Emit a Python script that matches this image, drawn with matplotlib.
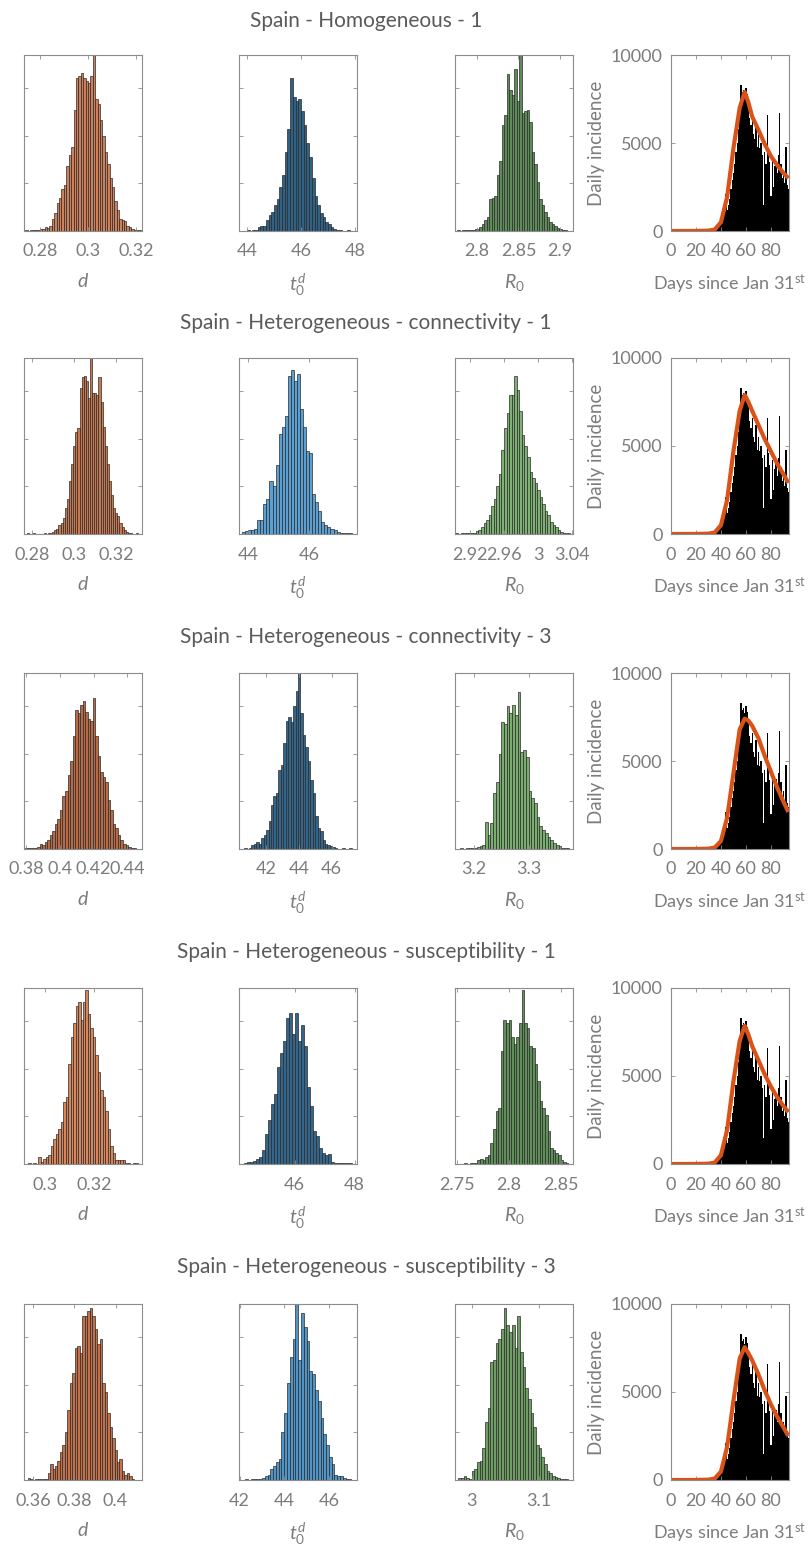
import numpy as np
import matplotlib
matplotlib.use('Agg')
import matplotlib.pyplot as plt
from matplotlib.ticker import FormatStrFormatter

plt.rcParams['font.family'] = ['Lato', 'DejaVu Sans']
plt.rcParams['mathtext.fontset'] = 'custom'
plt.rcParams['mathtext.rm'] = 'Lato'
plt.rcParams['mathtext.it'] = 'Lato:italic'

titles = ['Spain - Homogeneous - 1',
          'Spain - Heterogeneous - connectivity - 1',
          'Spain - Heterogeneous - connectivity - 3',
          'Spain - Heterogeneous - susceptibility - 1',
          'Spain - Heterogeneous - susceptibility - 3']

# ---- posterior of d (bin start, bin width, relative counts)
d_start = [0.274, 0.2765, 0.379, 0.2925, 0.3575]
d_width = [0.001, 0.001, 0.0015, 0.001, 0.0012]
d_counts = [
    [0.003, 0, 0.004, 0.003, 0.006, 0.005, 0.012, 0.01, 0.02, 0.015,
     0.03, 0.07, 0.1, 0.16, 0.19, 0.24, 0.26, 0.37, 0.43, 0.48,
     0.69, 0.87, 0.88, 0.9, 0.87, 0.85, 0.84, 0.88, 1.0, 0.75,
     0.72, 0.63, 0.54, 0.45, 0.38, 0.3, 0.25, 0.17, 0.12, 0.07,
     0.06, 0.055, 0.03, 0.02, 0.01, 0.005, 0.003, 0.004],
    [0.002, 0.003, 0.002, 0.002, 0.003, 0.002, 0.002, 0.001, 0.002, 0.003,
     0.002, 0.004, 0.008, 0.012, 0.02, 0.03, 0.05, 0.06, 0.09, 0.15,
     0.2, 0.3, 0.4, 0.5, 0.58, 0.6, 0.83, 0.89, 0.9, 0.87,
     0.77, 1.0, 0.8, 0.8, 0.79, 0.89, 0.75, 0.61, 0.5, 0.4,
     0.3, 0.22, 0.15, 0.12, 0.1, 0.06, 0.04, 0.02, 0.01, 0.005,
     0.003, 0.002, 0.001, 0.004, 0.002],
    [0.003, 0.005, 0.003, 0.004, 0.006, 0.01, 0.03, 0.02, 0.04, 0.05,
     0.08, 0.1, 0.14, 0.17, 0.22, 0.3, 0.33, 0.42, 0.5, 0.64,
     0.79, 0.77, 0.82, 0.84, 0.78, 0.74, 0.73, 0.86, 0.64, 0.53,
     0.44, 0.41, 0.38, 0.28, 0.22, 0.14, 0.12, 0.08, 0.05, 0.03,
     0.02, 0.01, 0.005, 0.003, 0.002],
    [0.0, 0.003, 0.002, 0.003, 0.0, 0.04, 0.01, 0.03, 0.04, 0.05,
     0.1, 0.14, 0.17, 0.2, 0.24, 0.35, 0.38, 0.57, 0.72, 0.8,
     0.9, 0.92, 0.82, 0.92, 0.99, 0.85, 0.77, 0.72, 0.62, 0.52,
     0.42, 0.38, 0.3, 0.2, 0.1, 0.06, 0.025, 0.02, 0.025, 0.02,
     0.008, 0.003, 0.002, 0.003, 0.004, 0.002],
    [0.01, 0.003, 0.002, 0.004, 0.003, 0.005, 0.004, 0.006, 0.04, 0.09,
     0.06, 0.08, 0.11, 0.16, 0.2, 0.27, 0.4, 0.55, 0.61, 0.75,
     0.76, 0.72, 0.93, 0.93, 0.96, 0.98, 0.93, 0.86, 0.77, 0.8,
     0.55, 0.5, 0.38, 0.3, 0.24, 0.17, 0.1, 0.12, 0.05, 0.03,
     0.04, 0.02, 0.005, 0.002, 0.0],
]
d_xlim = [(0.2734, 0.3225), (0.2761, 0.3322), (0.3786, 0.4488),
          (0.2917, 0.3393), (0.3557, 0.4128)]
d_ticks = [[0.28, 0.3, 0.32], [0.28, 0.3, 0.32], [0.38, 0.4, 0.42, 0.44],
           [0.3, 0.32], [0.36, 0.38, 0.4]]

# ---- posterior of t0^d
t0_start = [44.0, 43.8, 40.5, 44.2, 42.0]
t0_width = [0.1, 0.1, 0.15, 0.1, 0.125]
t0_counts = [
    [0.003, 0.002, 0.004, 0.005, 0.025, 0.03, 0.03, 0.06, 0.09, 0.11,
     0.15, 0.18, 0.25, 0.32, 0.45, 0.58, 0.87, 0.76, 0.74, 0.75,
     0.68, 0.6, 0.5, 0.42, 0.3, 0.2, 0.15, 0.1, 0.08, 0.05,
     0.04, 0.025, 0.01, 0.005, 0.003, 0.002, 0.002, 0.003, 0.002, 0.0],
    [0.01, 0.015, 0.02, 0.025, 0.03, 0.08, 0.08, 0.17, 0.2, 0.3,
     0.27, 0.39, 0.57, 0.61, 0.67, 0.9, 0.93, 0.87, 0.91, 0.71,
     0.61, 0.47, 0.46, 0.23, 0.18, 0.13, 0.07, 0.05, 0.04, 0.03,
     0.02, 0.01, 0.008, 0.005, 0.004, 0.008],
    [0.0, 0.004, 0.002, 0.003, 0.02, 0.03, 0.04, 0.03, 0.06, 0.08,
     0.11, 0.16, 0.25, 0.3, 0.32, 0.45, 0.48, 0.6, 0.73, 0.75,
     0.72, 0.81, 0.9, 1.0, 0.77, 0.65, 0.58, 0.5, 0.39, 0.32,
     0.19, 0.12, 0.1, 0.05, 0.03, 0.02, 0.015, 0.01, 0.004, 0.002,
     0.002, 0.003, 0.002, 0.002, 0.003, 0.002],
    [0.002, 0.003, 0.01, 0.012, 0.015, 0.03, 0.04, 0.08, 0.17, 0.25,
     0.34, 0.4, 0.55, 0.63, 0.7, 0.83, 0.86, 0.74, 0.86, 0.7,
     0.79, 0.67, 0.44, 0.33, 0.19, 0.16, 0.09, 0.06, 0.05, 0.056,
     0.013, 0.005, 0.004, 0.003, 0.005, 0.004, 0.003, 0.002],
    [0.002, 0.002, 0.003, 0.002, 0.004, 0.005, 0.008, 0.006, 0.01, 0.02,
     0.03, 0.06, 0.08, 0.1, 0.12, 0.27, 0.38, 0.55, 0.7, 0.8,
     1.0, 0.68, 0.95, 0.87, 0.79, 0.62, 0.6, 0.51, 0.45, 0.35,
     0.26, 0.2, 0.13, 0.09, 0.03, 0.025, 0.02, 0.012, 0.008, 0.004],
]
t0_xlim = [(43.71, 48.07), (43.7, 47.57), (40.34, 47.56), (44.14, 48.08), (41.97, 47.26)]
t0_ticks = [[44, 46, 48], [44, 46], [42, 44, 46], [46, 48], [42, 44, 46]]

# ---- posterior of R0
r0_start = [2.776, 2.903, 3.17, 2.755, 2.98]
r0_width = [0.003, 0.003, 0.005, 0.0025, 0.004]
r0_counts = [
    [0.003, 0.002, 0.004, 0.003, 0.005, 0.006, 0.008, 0.01, 0.012, 0.025,
     0.04, 0.06, 0.08, 0.18, 0.19, 0.2, 0.32, 0.4, 0.6, 0.66,
     0.89, 0.8, 0.77, 0.92, 0.74, 1.0, 0.67, 0.68, 0.69, 0.62,
     0.45, 0.38, 0.28, 0.18, 0.15, 0.11, 0.08, 0.05, 0.04, 0.03,
     0.015, 0.01, 0.005, 0.003, 0.002],
    [0.003, 0.002, 0.003, 0.005, 0.003, 0.004, 0.005, 0.008, 0.015, 0.02,
     0.04, 0.06, 0.08, 0.11, 0.16, 0.2, 0.27, 0.34, 0.48, 0.6,
     0.69, 0.79, 0.79, 0.9, 0.82, 0.7, 0.56, 0.5, 0.44, 0.35,
     0.32, 0.29, 0.25, 0.21, 0.17, 0.13, 0.11, 0.07, 0.05, 0.04,
     0.02, 0.012, 0.008, 0.005, 0.003, 0.002],
    [0.002, 0.003, 0.002, 0.003, 0.004, 0.005, 0.008, 0.01, 0.015, 0.025,
     0.154, 0.078, 0.15, 0.32, 0.38, 0.54, 0.72, 0.71, 0.81, 0.77,
     0.82, 0.76, 0.89, 0.55, 0.56, 0.52, 0.33, 0.29, 0.26, 0.18,
     0.13, 0.11, 0.09, 0.07, 0.05, 0.036, 0.02, 0.015, 0.008, 0.008,
     0.004, 0.002],
    [0.002, 0.003, 0.002, 0.003, 0.004, 0.005, 0.02, 0.03, 0.025, 0.04,
     0.05, 0.12, 0.2, 0.3, 0.32, 0.64, 0.82, 0.8, 0.82, 0.72,
     0.68, 0.72, 0.8, 0.99, 0.8, 0.77, 0.67, 0.66, 0.57, 0.47,
     0.36, 0.32, 0.28, 0.19, 0.09, 0.08, 0.06, 0.05, 0.02, 0.013,
     0.004, 0.002],
    [0.01, 0.01, 0.02, 0.01, 0.005, 0.05, 0.06, 0.1, 0.11, 0.18,
     0.33, 0.41, 0.67, 0.68, 0.78, 0.8, 0.86, 0.98, 0.88, 0.84,
     0.88, 0.75, 0.93, 0.73, 0.64, 0.52, 0.46, 0.38, 0.3, 0.2,
     0.18, 0.13, 0.09, 0.05, 0.04, 0.025, 0.015, 0.01, 0.008, 0.005,
     0.003, 0.002],
]
r0_xlim = [(2.7735, 2.9157), (2.9025, 3.041), (3.165, 3.3816), (2.7485, 2.862), (2.975, 3.1515)]
r0_ticks = [[2.8, 2.85, 2.9], [2.92, 2.96, 3, 3.04], [3.2, 3.3], [2.75, 2.8, 2.85], [3, 3.1]]

# ---- Spain daily incidence, days since Jan 31st
days = np.arange(95)
incidence = [0] * 25 + [1, 2, 5, 10, 20,
             30, 40, 50, 60, 90, 120, 180, 250, 350, 450,
             500, 600, 800, 1000, 2100, 1200, 1500, 1800, 2400, 2900,
             3300, 3800, 4500, 5000, 5800, 6600, 8300, 7900, 8000, 7700,
             8100, 7800, 7200, 6400, 6000, 6600, 5500, 5200, 6200, 4800,
             5500, 4700, 5000, 4300, 1500, 4500, 3800, 6600, 4600, 3900,
             2000, 4200, 2500, 3700, 4000, 3300, 4300, 6700, 3800, 3000,
             3300, 2700, 4800, 2600, 2400]

# model fits (sampled)
fit_days = [0, 10, 20, 30, 35, 40, 45, 50, 55, 59, 62, 65, 70, 75, 80, 85, 90, 94]
fits = [
    [0, 0, 3, 20, 80, 500, 1950, 4700, 7000, 7900, 7300, 6500, 5750, 4950, 4250, 3750, 3300, 3000],
    [0, 0, 3, 20, 80, 500, 1950, 4700, 7000, 7900, 7500, 7000, 6200, 5400, 4700, 4000, 3400, 2900],
    [0, 0, 3, 20, 80, 450, 1800, 4300, 6800, 7400, 7300, 7000, 6300, 5300, 4400, 3500, 2700, 2100],
    [0, 0, 3, 20, 80, 500, 1950, 4700, 7000, 7850, 7350, 6700, 5900, 5100, 4400, 3800, 3300, 2950],
    [0, 0, 3, 20, 80, 480, 1900, 4500, 6900, 7550, 7200, 6800, 6000, 5100, 4300, 3600, 3000, 2500],
]

# colours per row
orange = ['#CF8058', '#C8784F', '#B86A45', '#D8865C', '#C4714A']
blue = ['#2F6184', '#5AA0D2', '#33668A', '#33668A', '#4F95C8']
green = ['#5E8C58', '#7DB272', '#79AE6E', '#5F8E58', '#6E9E63']

grey = '#7c7c7c'
W, H = 812, 1549
col_x = [24, 239, 455, 671]
col_w = 118
row_top = [55, 358, 673, 988, 1304]
row_h = 176
title_y = [21, 323, 637, 952, 1267]

fig = plt.figure(figsize=(W / 100, H / 100), dpi=100)


def style(ax):
    for s in ax.spines.values():
        s.set_color('#8c8c8c')
        s.set_linewidth(0.8)
    ax.tick_params(direction='in', length=3, width=0.6, color='#8c8c8c',
                   top=True, right=True, labelsize=13, labelcolor=grey, pad=9)
    ax.tick_params(axis='y', pad=6)


def hist_panel(ax, start, width, counts, xlim, ticks, face, label):
    edges = start + width * np.arange(len(counts) + 1)
    ax.hist(edges[:-1], bins=edges, weights=counts, color=face,
            edgecolor='#2a2a2a', linewidth=0.5)
    ax.set_xlim(*xlim)
    ax.set_ylim(0, 1)
    ax.set_xticks(ticks)
    ax.xaxis.set_major_formatter(FormatStrFormatter('%g'))
    ax.set_yticks([0.27, 0.54, 0.81])
    ax.set_yticklabels([])
    style(ax)
    ax.set_xlabel(label, fontsize=14, color=grey, labelpad=9)


for r in range(5):
    axes = []
    for c in range(4):
        rect = [col_x[c] / W, 1 - (row_top[r] + row_h) / H, col_w / W, row_h / H]
        axes.append(fig.add_axes(rect))
    hist_panel(axes[0], d_start[r], d_width[r], d_counts[r], d_xlim[r], d_ticks[r],
               orange[r], r'$d$')
    hist_panel(axes[1], t0_start[r], t0_width[r], t0_counts[r], t0_xlim[r], t0_ticks[r],
               blue[r], r'$t_{\mathit{0}}^{d}$')
    hist_panel(axes[2], r0_start[r], r0_width[r], r0_counts[r], r0_xlim[r], r0_ticks[r],
               green[r], r'$R_{\mathit{0}}$')

    ax = axes[3]
    ax.bar(days, incidence, width=1.0, color='black', linewidth=0)
    ax.plot(fit_days, fits[r], color='#D95319', linewidth=3, solid_capstyle='butt')
    ax.set_xlim(0, 94.5)
    ax.set_ylim(0, 10000)
    ax.set_xticks([0, 20, 40, 60, 80])
    ax.set_yticks([0, 5000, 10000])
    style(ax)
    ax.set_ylabel('Daily incidence', fontsize=13.5, color=grey, labelpad=4)
    ax.set_xlabel(r'Days since Jan 31$^{\mathrm{st}}$', fontsize=13, color=grey, labelpad=9)

    fig.text(366 / W, 1 - title_y[r] / H, titles[r], ha='center', va='center',
             fontsize=15, color='#5a5a5a')

fig.savefig('out.png', dpi=100)
